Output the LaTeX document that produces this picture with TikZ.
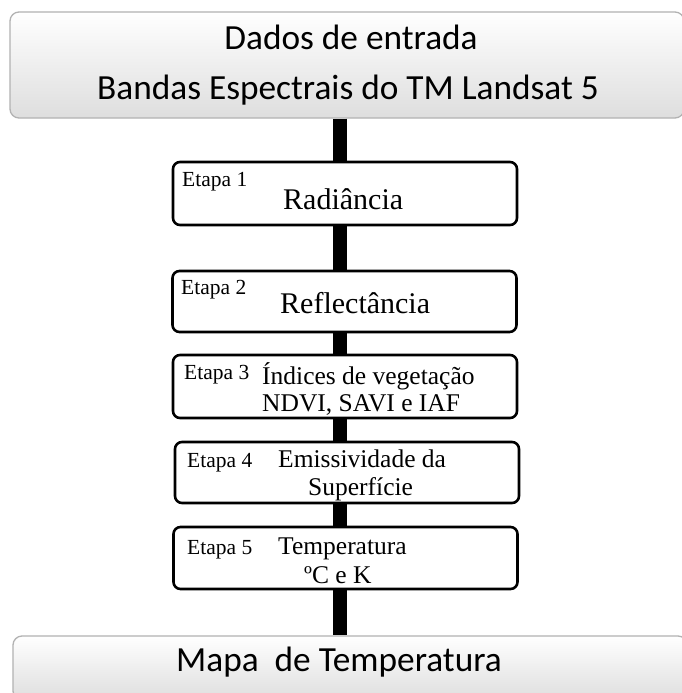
\documentclass[tikz,border=0pt]{standalone}
\usepackage{fontspec}
\setmainfont{Liberation Serif}
\newfontfamily\calfont{Carlito}
\usetikzlibrary{calc}
\begin{document}
\begin{tikzpicture}[x=1pt,y=-1pt,
  stepbox/.style={draw=black, line width=2.6pt, rounded corners=7pt, fill=white, inner sep=0pt, minimum width=344pt},
  bevel/.style={draw=gray!60, line width=1.3pt, rounded corners=9pt, top color=white, bottom color=gray!26, inner sep=0pt, minimum width=674pt},
  bar/.style={line width=13.5pt, black},
  etq/.style={anchor=base west, inner sep=0pt, font=\fontsize{21.5}{21.5}\selectfont},
  lbl/.style={anchor=base west, inner sep=0pt, font=\fontsize{25.5}{25.5}\selectfont},
  lblbig/.style={anchor=base west, inner sep=0pt, font=\fontsize{30}{30}\selectfont},
  sanstxt/.style={anchor=base, inner sep=0pt, font=\calfont\fontsize{35.3}{35.3}\selectfont}]
\useasboundingbox (0,0) rectangle (682,693);
\clip (0,0) rectangle (682,693);
\fill[white] (0,0) rectangle (682,693);
\coordinate (barx) at (340,0);
% top and bottom boxes
\node[bevel, minimum height=106pt] (top) at (347,65) {};
\node[sanstxt] (t1) at (351,50) {Dados de entrada};
\node[sanstxt] (t2) at (348,99) {Bandas Espectrais do TM Landsat 5};
\node[bevel, minimum height=64pt] (bot) at (350,668) {};
\node[sanstxt] (t3) at (339,671) {Mapa\ \ de Temperatura};
% step boxes
\node[stepbox, minimum height=63pt] (b1) at (345,193.5) {};
\node[stepbox, minimum height=61pt] (b2) at (344.5,301.5) {};
\node[stepbox, minimum height=63pt] (b3) at (345,386.5) {};
\node[stepbox, minimum height=61pt] (b4) at (347,472.5) {};
\node[stepbox, minimum height=62pt] (b5) at (345.5,558) {};
% connectors
\draw[bar] (top.south -| barx) -- (b1.north -| barx);
\draw[bar] (b1.south -| barx) -- (b2.north -| barx);
\draw[bar] (b2.south -| barx) -- (b3.north -| barx);
\draw[bar] (b3.south -| barx) -- (b4.north -| barx);
\draw[bar] (b4.south -| barx) -- (b5.north -| barx);
\draw[bar] (b5.south -| barx) -- (bot.north -| barx);
% labels
\node[etq] (e1) at (182,186) {Etapa 1};
\node[lblbig] (l1) at (283,209) {Radiância};
\node[etq] (e2) at (181,294) {Etapa 2};
\node[lblbig] (l2) at (280,313) {Reflectância};
\node[etq] (e3) at (184,379) {Etapa 3};
\node[lbl] (l3a) at (262,384) {Índices de vegetação};
\node[lbl] (l3b) at (262,411) {NDVI, SAVI e IAF};
\node[etq] (e4) at (187,467) {Etapa 4};
\node[lbl] (l4a) at (278,467) {Emissividade da};
\node[lbl] (l4b) at (308,495) {Superfície};
\node[etq] (e5) at (187,554) {Etapa 5};
\node[lbl] (l5a) at (278,554) {Temperatura};
\node[lbl] (l5b) at (304,583) {ºC e K};
\end{tikzpicture}
\end{document}
